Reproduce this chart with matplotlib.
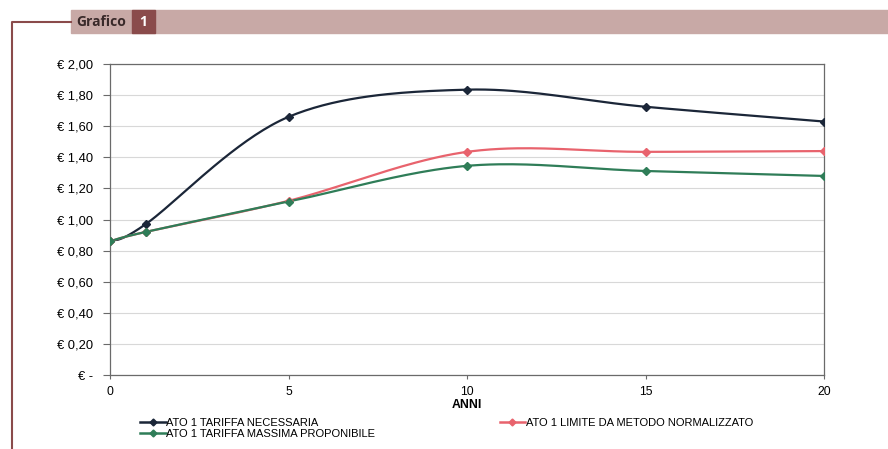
import numpy as np
import matplotlib
matplotlib.use("Agg")
import matplotlib.pyplot as plt
from matplotlib.lines import Line2D
from matplotlib.patches import Rectangle

years = [0, 1, 5, 10, 15, 20]
necessaria = [0.86, 0.97, 1.66, 1.835, 1.725, 1.63]
limite = [0.86, 0.92, 1.12, 1.435, 1.435, 1.44]
massima = [0.86, 0.92, 1.115, 1.345, 1.312, 1.28]

series_names = ["ATO 1 TARIFFA NECESSARIA", "ATO 1 LIMITE DA METODO NORMALIZZATO",
                "ATO 1 TARIFFA MASSIMA PROPONIBILE"]
yticks = [0, 0.2, 0.4, 0.6, 0.8, 1.0, 1.2, 1.4, 1.6, 1.8, 2.0]
ytick_labels = ["€ -", "€ 0,20", "€ 0,40", "€ 0,60", "€ 0,80", "€ 1,00",
                "€ 1,20", "€ 1,40", "€ 1,60", "€ 1,80", "€ 2,00"]
xticks = [0, 5, 10, 15, 20]

plt.rcParams['font.family'] = ['Liberation Sans', 'DejaVu Sans']

def smooth(x, y, n=40):
    # Catmull-Rom style bezier smoothing (as used by spreadsheet "smoothed line")
    x = np.asarray(x, float); y = np.asarray(y, float)
    px, py = [], []
    m = len(x)
    for i in range(m - 1):
        x0, y0 = (x[i-1], y[i-1]) if i > 0 else (x[i], y[i])
        x3, y3 = (x[i+2], y[i+2]) if i + 2 < m else (x[i+1], y[i+1])
        c1x = x[i] + (x[i+1] - x0) / 6; c1y = y[i] + (y[i+1] - y0) / 6
        c2x = x[i+1] - (x3 - x[i]) / 6; c2y = y[i+1] - (y3 - y[i]) / 6
        t = np.linspace(0, 1, n)
        bx = (1-t)**3*x[i] + 3*(1-t)**2*t*c1x + 3*(1-t)*t**2*c2x + t**3*x[i+1]
        by = (1-t)**3*y[i] + 3*(1-t)**2*t*c1y + 3*(1-t)*t**2*c2y + t**3*y[i+1]
        px.extend(bx); py.extend(by)
    return px, py

fig = plt.figure(figsize=(8.88, 4.49), dpi=100)
ax = fig.add_axes([110/888, 1-375/449, (824-110)/888, (375-64)/449])

colors = ["#1b2638", "#e8636d", "#2f7d58"]
data = [necessaria, limite, massima]
for vals, c in zip(data, colors):
    sx, sy = smooth(years, vals)
    ax.plot(sx, sy, color=c, lw=1.6, zorder=3, solid_capstyle='round')
    ax.plot(years, vals, linestyle='none', marker='D', ms=4.5, color=c, zorder=4)

ax.set_xlim(0, 20)
ax.set_ylim(0, 2.0)
ax.set_xticks(xticks)
ax.set_xticklabels([str(v) for v in xticks], fontsize=8.8)
ax.set_yticks(yticks)
ax.set_yticklabels(ytick_labels, fontsize=9.3)
ax.grid(axis='y', color='#d8d8d8', lw=0.8)
ax.set_axisbelow(True)
for s in ax.spines.values():
    s.set_color('#6a6a6a'); s.set_linewidth(0.9)
ax.tick_params(axis='y', length=5, width=0.8, color='#6a6a6a', pad=7)
ax.tick_params(axis='x', length=3, width=0.8, color='#6a6a6a', pad=5)
ax.set_xlabel("ANNI", fontsize=8.8, fontweight='bold', labelpad=1)

handles = [Line2D([], [], color=c, lw=1.8, marker='D', ms=3.5) for c in colors]
order = [0, 2, 1]
fig.legend([handles[i] for i in order], [series_names[i] for i in order],
           loc='upper left', bbox_to_anchor=(140/888, 1-418/449), ncol=2,
           frameon=False, fontsize=8, handlelength=2.3, handletextpad=0.05,
           columnspacing=11.2, labelspacing=0.1, borderpad=0, borderaxespad=0)

# header band
fig.patches.append(Rectangle((71/888, 1-33/449), (888-71)/888, 23/449,
                             transform=fig.transFigure, color='#c8a9a6', zorder=0))
fig.patches.append(Rectangle((132/888, 1-33/449), 23/888, 23/449,
                             transform=fig.transFigure, color='#8a4b4b', zorder=1))
fig.text(76/888, 1-21.5/449, "Grafico", fontsize=10, fontweight='bold',
         color='#3a2a2a', va='center', ha='left', family=['Open Sans', 'DejaVu Sans'])
fig.text(143.5/888, 1-21.5/449, "1", fontsize=10, fontweight='bold',
         color='white', va='center', ha='center', family=['Open Sans', 'DejaVu Sans'])
fig.add_artist(Line2D([71/888, 12/888, 12/888], [1-22/449, 1-22/449, 0],
                      transform=fig.transFigure, color='#8a4b4b', lw=1.5))

fig.savefig("out.png", dpi=100)
